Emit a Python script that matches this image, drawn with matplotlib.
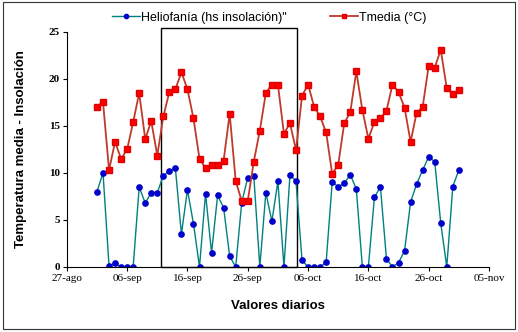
# Temperatura media e insolación diaria, sep-oct
import matplotlib
matplotlib.use('Agg')
import matplotlib.pyplot as plt
import matplotlib.dates as mdates
from matplotlib.patches import Rectangle
import pandas as pd

dias = pd.date_range('2008-09-01', '2008-10-31', freq='D')

heliofania = [8.0, 10.0, 0.1, 0.4, 0.0, 0.0, 0.0, 8.5, 6.8, 7.9,
              7.9, 9.7, 10.2, 10.5, 3.5, 8.2, 4.6, 0.0, 7.8, 1.5,
              7.6, 6.3, 1.15, 0.0, 6.85, 9.5, 9.7, 0.0, 7.9, 4.85,
              9.1, 0.0, 9.8, 9.1, 0.7, 0.0, 0.0, 0.0, 0.5, 9.0,
              8.55, 8.9, 9.8, 8.3, 0.0, 0.0, 7.4, 8.5, 0.85, 0.0,
              0.45, 1.7, 6.9, 8.8, 10.3, 11.7, 11.2, 4.65, 0.0, 8.55,
              10.3]

tmedia = [17.05, 17.55, 10.3, 13.3, 11.5, 12.5, 15.4, 18.5, 13.6, 15.5,
          11.85, 16.0, 18.6, 18.9, 20.7, 18.9, 15.8, 11.5, 10.5, 10.85,
          10.85, 11.3, 16.3, 9.15, 7.0, 7.0, 11.2, 14.5, 18.5, 19.4,
          19.4, 14.15, 15.3, 12.4, 18.2, 19.4, 17.05, 16.0, 14.3, 9.9,
          10.85, 15.3, 16.45, 20.8, 16.7, 13.65, 15.4, 15.8, 16.6, 19.4,
          18.6, 16.95, 13.3, 16.4, 17.0, 21.4, 21.2, 23.1, 19.0, 18.4,
          18.8]

tick_fechas = pd.date_range('2008-08-27', '2008-11-05', freq='10D')
tick_labels = ['27-ago', '06-sep', '16-sep', '26-sep', '06-oct', '16-oct', '26-oct', '05-nov']

# recuadro marcado en el gráfico
box_ini = pd.Timestamp('2008-09-11 14:00')
box_fin = pd.Timestamp('2008-10-04 02:00')

fig = plt.figure(figsize=(5.18, 3.32), dpi=100)
ax = fig.add_axes([0.129, 0.196, 0.815, 0.708])

ax.plot(dias, heliofania, color='#008080', lw=1, marker='o', ms=3.8,
        mfc='#0000CC', mec='#0000CC', label='Heliofanía (hs insolación)"')
ax.plot(dias, tmedia, color='#C0392B', lw=1.3, marker='s', ms=4.3,
        mfc='#FF0000', mec='#E00000', label='Tmedia (°C)')

x0 = mdates.date2num(box_ini)
x1 = mdates.date2num(box_fin)
ax.add_patch(Rectangle((x0, 0), x1 - x0, 25.4, fill=False, ec='black', lw=1, clip_on=False))

ax.set_xlim(tick_fechas[0], tick_fechas[-1])
ax.set_ylim(0, 25)
ax.set_xticks(tick_fechas)
ax.set_xticklabels(tick_labels, family='Liberation Serif', fontsize=8)
ax.set_yticks(range(0, 26, 5))
ax.set_yticklabels([str(v) for v in range(0, 26, 5)], family='Liberation Serif',
                   fontsize=8, fontweight='bold')
ax.tick_params(length=3, width=0.8, pad=2)
for s in ['top', 'right']:
    ax.spines[s].set_visible(False)
ax.spines['left'].set_linewidth(0.8)
ax.spines['bottom'].set_linewidth(0.8)

ax.set_xlabel('Valores diarios', family='Liberation Sans', fontsize=9.5, fontweight='bold', labelpad=12)
ax.set_ylabel('Temperatura media - Insolación', family='Liberation Sans', fontsize=9.5,
              fontweight='bold', labelpad=16)

fig.legend(loc='center', bbox_to_anchor=(0.52, 0.947), ncol=2, frameon=False,
           prop={'family': 'Liberation Sans', 'size': 9}, handlelength=2.2,
           handletextpad=0.1, columnspacing=3.5, markerscale=0.8)

fig.patches.append(Rectangle((3 / 518, 3 / 332), 512 / 518, 327 / 332, fill=False,
                             ec='#333333', lw=0.8, transform=fig.transFigure, figure=fig))

fig.savefig('out.png', dpi=100)
